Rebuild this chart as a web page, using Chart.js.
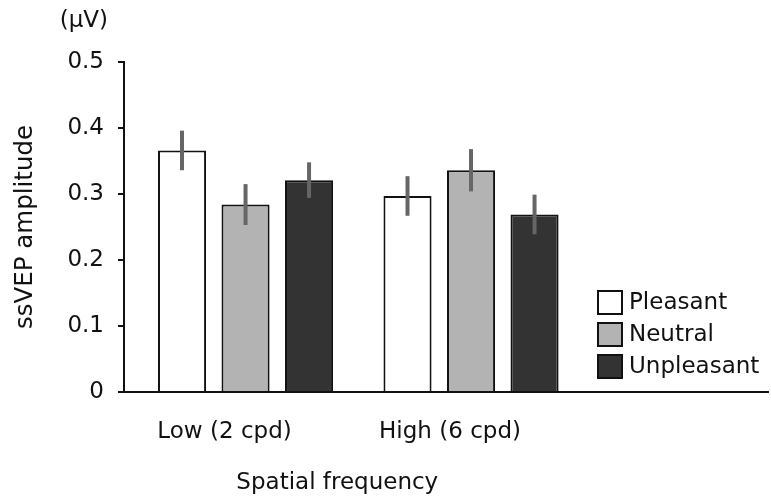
<!DOCTYPE html>
<html>
<head>
<meta charset="utf-8">
<script src="https://cdn.jsdelivr.net/npm/chart.js@4.4.1/dist/chart.umd.min.js"></script>
<style>
html,body{margin:0;padding:0;background:#fff;}
#wrap{width:771px;height:500px;}
</style>
</head>
<body>
<div id="wrap"><canvas id="c" width="771" height="500"></canvas></div>
<script>
const categories = ['Low (2 cpd)', 'High (6 cpd)'];
const seriesNames = ['Pleasant', 'Neutral', 'Unpleasant'];
const pleasant = [0.366, 0.297];
const neutral = [0.284, 0.336];
const unpleasant = [0.321, 0.269];
const pleasantErr = [0.030, 0.030];
const neutralErr = [0.031, 0.032];
const unpleasantErr = [0.027, 0.030];
const yTicks = [0, 0.1, 0.2, 0.3, 0.4, 0.5];

const FONT = 'DejaVu Sans';
const fills = ['#ffffff', '#b3b3b3', '#333333'];
const values = [pleasant, neutral, unpleasant];
const errs = [pleasantErr, neutralErr, unpleasantErr];

const datasets = seriesNames.map((name, k) => ({
  label: name,
  data: values[k].map((v, i) => ({x: i, y: v})),
  err: errs[k],
  backgroundColor: fills[k],
  borderColor: '#111',
  borderWidth: 2,
  categoryPercentage: 0.845,
  barPercentage: 0.757
}));

const errorBars = {
  id: 'errorBars',
  afterDatasetsDraw(chart) {
    const ctx = chart.ctx;
    const ys = chart.scales.y;
    ctx.save();
    ctx.strokeStyle = '#666666';
    ctx.lineWidth = 4;
    ctx.lineCap = 'butt';
    chart.data.datasets.forEach((ds, k) => {
      const meta = chart.getDatasetMeta(k);
      meta.data.forEach((bar, i) => {
        const v = ds.data[i].y, e = ds.err[i];
        ctx.beginPath();
        ctx.moveTo(bar.x, ys.getPixelForValue(v + e));
        ctx.lineTo(bar.x, ys.getPixelForValue(v - e));
        ctx.stroke();
      });
    });
    ctx.restore();
  }
};

const extras = {
  id: 'extras',
  afterDraw(chart) {
    const ctx = chart.ctx;
    const xs = chart.scales.x, ca = chart.chartArea;
    ctx.save();
    ctx.fillStyle = '#111';
    ctx.font = '23px "' + FONT + '"';
    ctx.textAlign = 'right';
    ctx.textBaseline = 'middle';
    ctx.fillText('(\u03BCV)', ca.left - 16, 21);
    const off = chart.options.scales.x.ticks.labelOffset;
    const cx = (xs.getPixelForValue(0) + xs.getPixelForValue(categories.length - 1)) / 2 + off;
    ctx.textAlign = 'center';
    ctx.fillText('Spatial frequency', cx, 483);
    const lx = ca.right - 170, ly = 291, box = 23, step = 32;
    chart.data.datasets.forEach((ds, k) => {
      const y = ly + k * step;
      ctx.fillStyle = ds.backgroundColor;
      ctx.fillRect(lx, y, box + 1, box);
      ctx.strokeStyle = '#111';
      ctx.lineWidth = 2;
      ctx.strokeRect(lx, y, box + 1, box);
      ctx.fillStyle = '#111';
      ctx.textAlign = 'left';
      ctx.fillText(ds.label, lx + box + 8, y + box / 2 + 1);
    });
    ctx.restore();
  }
};

new Chart(document.getElementById('c'), {
  type: 'bar',
  data: { datasets },
  options: {
    responsive: false,
    animation: false,
    devicePixelRatio: 1,
    layout: { padding: { left: 0, right: 3, top: 62, bottom: 0 } },
    plugins: { legend: { display: false }, tooltip: { enabled: false } },
    scales: {
      x: {
        type: 'linear',
        offset: false,
        min: -0.539,
        max: 2.317,
        afterBuildTicks: (s) => { s.ticks = categories.map((c, i) => ({ value: i })); },
        afterFit: (s) => { s.height = 108; },
        grid: { display: false },
        border: { display: true, color: '#111', width: 2 },
        ticks: {
          callback: (v) => categories[v] ?? '',
          labelOffset: -21,
          padding: 18,
          autoSkip: false,
          maxRotation: 0,
          color: '#111',
          font: { family: FONT, size: 23 }
        }
      },
      y: {
        min: 0,
        max: 0.5,
        afterBuildTicks: (s) => { s.ticks = yTicks.map(v => ({ value: v })); },
        afterFit: (s) => { s.width = 124; },
        grid: { drawOnChartArea: false, drawTicks: true, tickLength: 6, color: '#111', lineWidth: 2 },
        border: { display: true, color: '#111', width: 2 },
        ticks: {
          callback: (v) => v === 0 ? '0' : v.toFixed(1),
          padding: 14,
          color: '#111',
          font: { family: FONT, size: 23 }
        },
        title: {
          display: true,
          text: 'ssVEP amplitude',
          color: '#111',
          font: { family: FONT, size: 24.5 },
          padding: { top: 11, bottom: 0 }
        }
      }
    }
  },
  plugins: [errorBars, extras]
});
</script>
</body>
</html>
